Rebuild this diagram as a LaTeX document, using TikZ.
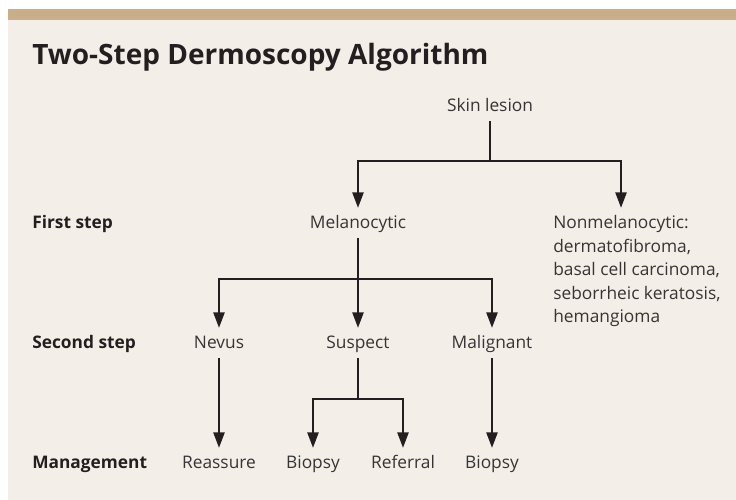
\documentclass[tikz,border=0pt]{standalone}
\usepackage{fontspec}
\setmainfont{Open Sans}
\usetikzlibrary{arrows.meta}
\definecolor{bg}{HTML}{F3EFE8}
\definecolor{barc}{HTML}{C8AF8A}
\definecolor{ink}{HTML}{231F20}
\definecolor{txt}{HTML}{363435}
\begin{document}
\begin{tikzpicture}[x=0.75pt,y=-0.75pt,
  lbl/.style={inner sep=0pt, text height=15pt, text depth=7.5pt, font=\fontsize{13pt}{16pt}\selectfont, text=txt, anchor=base},
  rowlbl/.style={inner sep=0pt, anchor=base west, font=\fontsize{13pt}{16pt}\selectfont\bfseries, text=ink},
  conn/.style={draw=ink, line width=1pt},
  arr/.style={conn, -{Triangle[length=11.5pt, width=8.5pt]}}]
\useasboundingbox (0,0) rectangle (736,500);
\fill[white] (0,0) rectangle (736,500);
\fill[bg] (8,20) rectangle (736,500);
\fill[barc] (8,9) rectangle (736,20);

\node[inner sep=0pt, anchor=base west, font=\fontsize{21pt}{25pt}\selectfont\bfseries, text=ink] (title) at (32,64) {Two-Step Dermoscopy Algorithm};

\node[rowlbl] (r1) at (32,228) {First step};
\node[rowlbl] (r2) at (32,348) {Second step};
\node[rowlbl] (r3) at (32,468) {Management};

\node[lbl] (skin) at (490,111) {Skin lesion};
\node[lbl] (mel) at (358,228) {Melanocytic};
\node[lbl, anchor=base west] (non1) at (553,228) {Nonmelanocytic:};
\node[inner sep=0pt, anchor=north west, align=left, font=\fontsize{13pt}{17.6pt}\selectfont, text=txt] (non2) at (553,239) {dermatofibroma,\\basal cell carcinoma,\\seborrheic keratosis,\\hemangioma};

\node[lbl] (nev) at (219,348) {Nevus};
\node[lbl] (sus) at (358,348) {Suspect};
\node[lbl] (mal) at (492,348) {Malignant};

\node[lbl] (rea) at (219,468) {Reassure};
\node[lbl] (bio1) at (313,468) {Biopsy};
\node[lbl] (ref) at (403,468) {Referral};
\node[lbl] (bio2) at (492,468) {Biopsy};

\coordinate (j1) at (skin.south |- 0,161);
\coordinate (j2) at (mel.south |- 0,279);
\coordinate (j3) at (sus.south |- 0,399);

\draw[conn] (skin.south) -- (j1);
\draw[arr] (j1) -| (mel.north);
\draw[arr] (j1) -| (non1.north);

\draw[conn] (mel.south) -- (j2);
\draw[arr] (j2) -| (nev.north);
\draw[arr] (j2) -- (sus.north);
\draw[arr] (j2) -| (mal.north);

\draw[arr] (nev.south) -- (rea.north);
\draw[conn] (sus.south) -- (j3);
\draw[arr] (j3) -| (bio1.north);
\draw[arr] (j3) -| (ref.north);
\draw[arr] (mal.south) -- (bio2.north);
\end{tikzpicture}
\end{document}
